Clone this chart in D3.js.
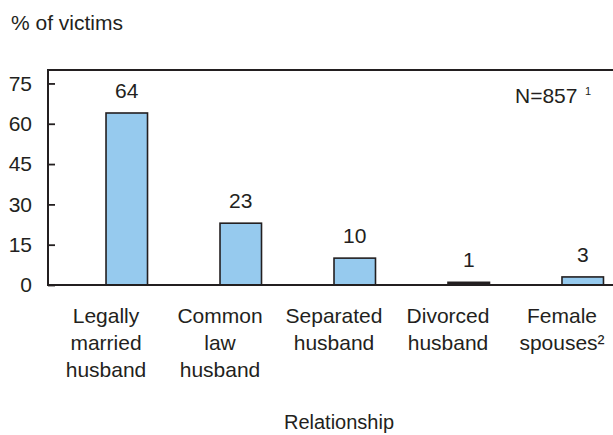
<!DOCTYPE html>
<html><head><meta charset="utf-8">
<script src="https://cdn.jsdelivr.net/npm/d3@7"></script>
<style>
html,body{margin:0;padding:0;background:#fff;}
svg{display:block;font-family:"Liberation Sans",Arial,Helvetica,sans-serif;}
</style></head>
<body><svg id="c" width="613" height="435"></svg>
<script>
const categories = ["Legally married husband","Common law husband","Separated husband","Divorced husband","Female spouses²"];
const categoryLines = [["Legally","married","husband"],["Common","law","husband"],["Separated","husband"],["Divorced","husband"],["Female","spouses²"]];
const values = [64, 23, 10, 1, 3];
const yTicks = [0, 15, 30, 45, 60, 75];
const yTitle = "% of victims";
const xTitle = "Relationship";
const note = "N=857";
const noteSup = "1";

const ink = "#231f20";
const svg = d3.select("#c");
const mLeft = 48, mTop = 70, mBottom = 285, mRight = 613;

const y = d3.scaleLinear().domain([0, 80]).range([mBottom, mTop]);
const x = d3.scaleBand().domain(categories).range([mLeft, 661.5]).paddingInner(0.636).paddingOuter(0.509);

// bars
svg.selectAll("rect.bar").data(values).join("rect")
  .attr("class","bar")
  .attr("x",(d,i)=>x(categories[i]))
  .attr("width",x.bandwidth())
  .attr("y",d=>y(d))
  .attr("height",d=>y(0)-y(d))
  .attr("fill",d=>d<2?ink:"#96caee")
  .attr("stroke",ink).attr("stroke-width",1.6);

// value labels
svg.selectAll("text.val").data(values).join("text")
  .attr("class","val")
  .attr("x",(d,i)=>x(categories[i])+x.bandwidth()/2)
  .attr("y",d=>y(d)-15)
  .attr("text-anchor","middle")
  .attr("font-size",21).attr("fill",ink)
  .text(d=>d);

// y axis
const ya = svg.append("g").attr("transform",`translate(${mLeft},0)`)
  .call(d3.axisLeft(y).tickValues(yTicks).tickSizeInner(-7).tickSizeOuter(0).tickPadding(16));
ya.select(".domain").remove();
ya.selectAll(".tick line").attr("stroke",ink).attr("stroke-width",1.8);
ya.selectAll(".tick text").attr("font-size",21).attr("fill",ink).attr("font-family","Liberation Sans, Arial, sans-serif");

// frame lines
svg.append("path").attr("d",`M${mRight},${mTop}H${mLeft}V${mBottom}H${mRight}`)
  .attr("fill","none").attr("stroke",ink).attr("stroke-width",2);

// category labels
const cl = svg.selectAll("text.cat").data(categories).join("text")
  .attr("class","cat")
  .attr("text-anchor","middle")
  .attr("font-size",21).attr("fill",ink)
  .attr("y",322.5);
cl.each(function(c,i){
  const t = d3.select(this);
  categoryLines[i].forEach((ln,j)=>{
    t.append("tspan").attr("x",x(c)).attr("dy",j===0?0:27).text(ln);
  });
});

// titles
svg.append("text").attr("x",339).attr("y",429).attr("text-anchor","middle").attr("font-size",20).attr("fill",ink).text(xTitle);
svg.append("text").attr("x",11).attr("y",30).attr("font-size",21).attr("fill",ink).text(yTitle);
svg.append("text").attr("x",515).attr("y",103).attr("font-size",21).attr("fill",ink).text(note);
svg.append("text").attr("x",585).attr("y",95).attr("font-size",11).attr("fill",ink).text(noteSup);
</script></body></html>
